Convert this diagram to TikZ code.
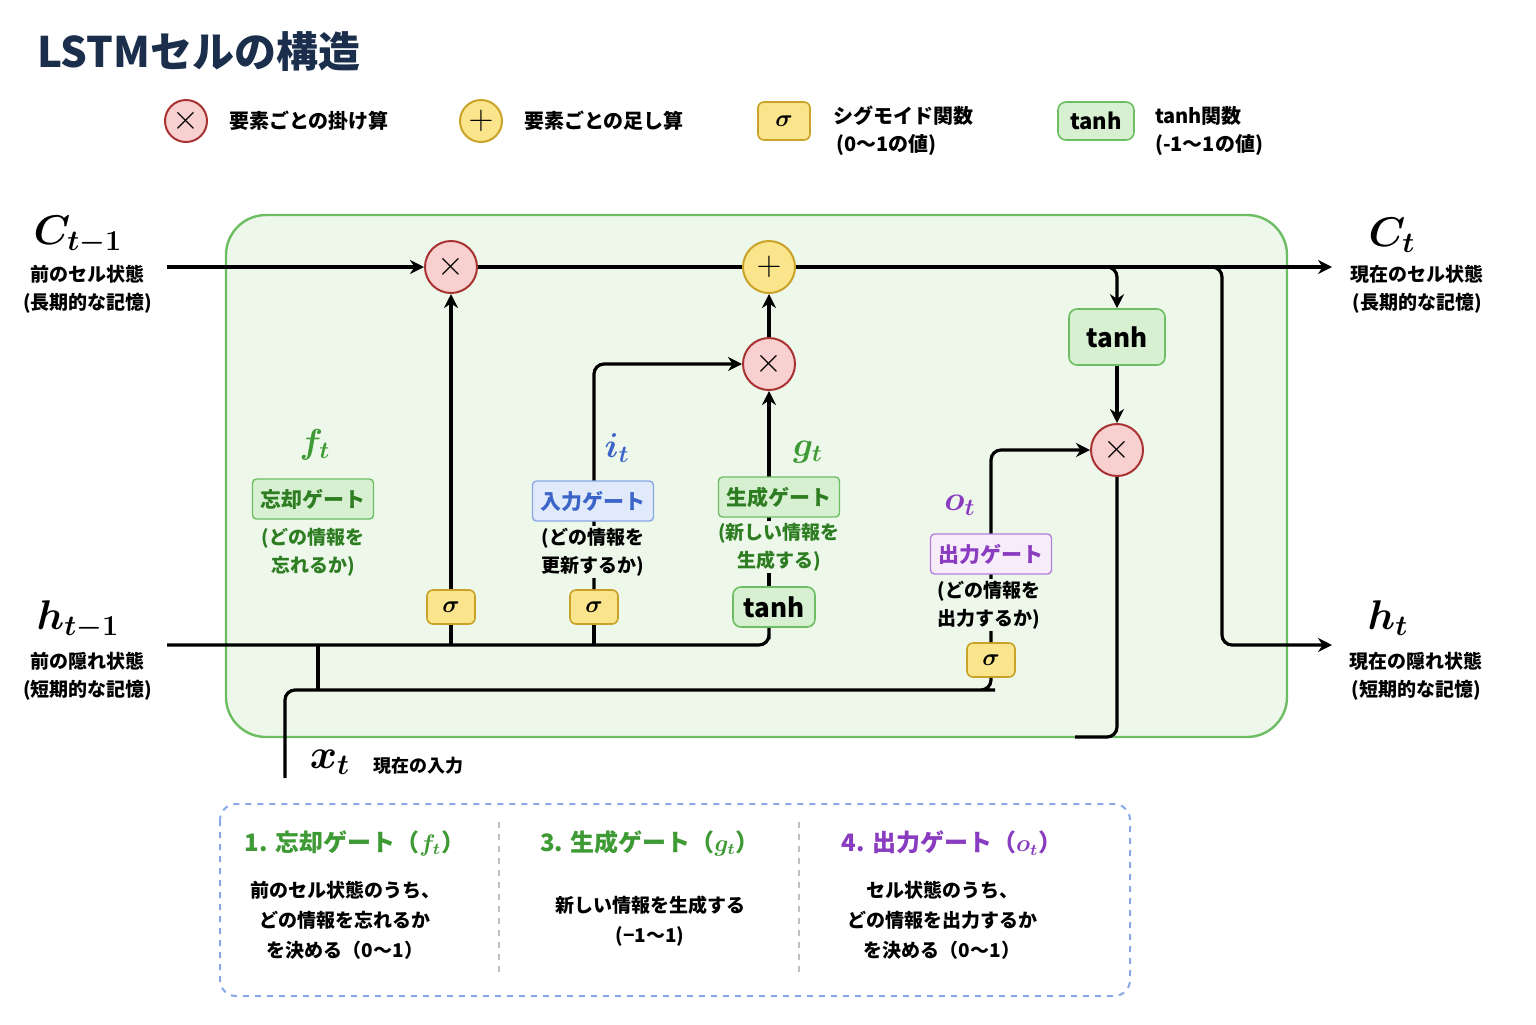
\documentclass[tikz,border=0pt]{standalone}
\usepackage{amsmath,amssymb,bm}
\usepackage{fontspec}
\setmainfont{Noto Sans CJK JP}
\usetikzlibrary{arrows.meta}
\definecolor{navy}{HTML}{1B2E4B}
\definecolor{gfill}{HTML}{D8F0D2}
\definecolor{gdraw}{HTML}{6DBE63}
\definecolor{gtext}{HTML}{3E9A34}
\definecolor{yfill}{HTML}{FBE58C}
\definecolor{ydraw}{HTML}{C9A227}
\definecolor{rfill}{HTML}{F8D0D0}
\definecolor{rdraw}{HTML}{A83232}
\definecolor{bfill}{HTML}{E0EAFB}
\definecolor{bdraw}{HTML}{8AA8E8}
\definecolor{btext}{HTML}{3A64C8}
\definecolor{pfill}{HTML}{F6ECFA}
\definecolor{pdraw}{HTML}{B47FD8}
\definecolor{ptext}{HTML}{8A3CC0}
\definecolor{dgtext}{HTML}{2E7D22}
\colorlet{cellbg}{gfill!45}
\begin{document}
\begin{tikzpicture}[x=0.5pt,y=-0.5pt,
  wire/.style={line width=1.6pt,rounded corners=5pt},
  arr/.style={wire,-{Stealth[length=7pt,width=7pt]}},
  mul/.style={circle,draw=rdraw,fill=rfill,line width=1pt,minimum size=26pt,inner sep=0pt,font=\fontsize{17}{17}\selectfont},
  addn/.style={circle,draw=ydraw,fill=yfill,line width=1pt,minimum size=26pt,inner sep=0pt,font=\fontsize{17}{17}\selectfont},
  sig/.style={rectangle,rounded corners=3pt,draw=ydraw,fill=yfill,line width=0.8pt,minimum width=24pt,minimum height=17pt,inner sep=0pt,font=\fontsize{13}{13}\selectfont},
  th/.style={rectangle,rounded corners=4pt,draw=gdraw,fill=gfill,line width=0.8pt,minimum width=41pt,minimum height=20pt,inner sep=0pt,font=\fontsize{13}{13}\selectfont\bfseries},
  gbox/.style={rectangle,rounded corners=2pt,line width=0.7pt,minimum height=20pt,inner xsep=4pt,font=\fontsize{10.5}{10.5}\selectfont\bfseries},
  txt/.style={font=\fontsize{10}{14}\selectfont\bfseries},
  sm/.style={font=\fontsize{9.5}{14}\selectfont\bfseries},
  smb/.style={sm,fill=cellbg,inner sep=1pt},
  mlab/.style={font=\fontsize{20}{20}\selectfont},
  glab/.style={font=\fontsize{17}{17}\selectfont}]
\useasboundingbox (0,0) rectangle (1536,1024);
\fill[white] (0,0) rectangle (1536,1024);
% title
\node[anchor=west,text=navy,font=\fontsize{21}{21}\selectfont\bfseries] (title) at (30,52) {LSTMセルの構造};
% legend
\node[mul,minimum size=21pt] (lm) at (186,121) {$\times$};
\node[txt,anchor=west] (lmt) at (222,121) {要素ごとの掛け算};
\node[addn,minimum size=21pt] (la) at (481,121) {$+$};
\node[txt,anchor=west] (lat) at (517,121) {要素ごとの足し算};
\node[sig,minimum width=26pt,minimum height=19pt] (ls) at (784,121) {$\bm\sigma$};
\node[txt,anchor=west,align=left] (lst) at (826,131) {シグモイド関数\\\,(0〜1の値)};
\node[th,minimum width=38pt,minimum height=19pt,font=\fontsize{11}{11}\selectfont\bfseries] (lt) at (1096,121) {tanh};
\node[txt,anchor=west,align=left] (ltt) at (1148,131) {tanh関数\\(-1〜1の値)};
% main box
\draw[draw=gdraw,fill=cellbg,line width=1.2pt,rounded corners=20pt] (226,215) rectangle (1287,737);
% nodes
\node[mul] (m1) at (451,267) {$\times$};
\node[addn] (ad) at (769,267) {$+$};
\node[mul] (m2) at (769,364) {$\times$};
\node[mul] (m3) at (1117,450) {$\times$};
\node[th,minimum width=48pt,minimum height=28pt] (tc) at (1117,337) {tanh};
\node[sig] (s1) at (451,607) {$\bm\sigma$};
\node[sig] (s2) at (594,607) {$\bm\sigma$};
\node[th] (t2) at (774,607) {tanh};
\node[sig] (s3) at (991,660) {$\bm\sigma$};
% endpoints
\coordinate (cin) at (167,267);
\coordinate (cout) at (1332,267);
\coordinate (hin) at (167,645);
\coordinate (hout) at (1332,645);
\coordinate (xin) at (285,778);
\coordinate (hend) at (1075,737);
% wires
\draw[arr] (cin) -- (m1);
\draw[wire] (m1) -- (ad);
\draw[arr] (ad) -- (cout);
\draw[arr] (1090,267) -| (tc.north);
\draw[arr] (1210,267) -| (1222,645) -- (hout);
\draw[arr] (tc) -- (m3);
\draw[wire] (m3) |- (hend);
\draw[arr] (m2) -- (ad);
\draw[arr] (s1) -- (m1);
\draw[arr] (s2.north) |- (m2);
\draw[arr] (t2.north -| m2) -- (m2);
\draw[arr] (s3.north) |- (m3);
\draw[wire] (hin) -- (769,645) -| (t2.south -| m2);
\draw[wire] (s1.south) -- (451,645);
\draw[wire] (s2.south) -- (594,645);
\draw[wire] (xin) |- (985,690) -| (s3.south);
\draw[wire] (318,645) -- (318,690);
% outer labels
\node[mlab] (cl) at (78,235) {$\bm{C_{t-1}}$};
\node[sm,align=center] (clt) at (88,289) {前のセル状態\\(長期的な記憶)};
\node[mlab] (hl) at (78,620) {$\bm{h_{t-1}}$};
\node[sm,align=center] (hlt) at (88,676) {前の隠れ状態\\(短期的な記憶)};
\node[mlab] (cr) at (1392,235) {$\bm{C_t}$};
\node[sm,align=center] (crt) at (1417,289) {現在のセル状態\\(長期的な記憶)};
\node[mlab] (hr) at (1388,618) {$\bm{h_t}$};
\node[sm,align=center] (hrt) at (1416,676) {現在の隠れ状態\\(短期的な記憶)};
\node[mlab] (xl) at (330,762) {$\bm{x_t}$};
\node[font=\fontsize{9}{9}\selectfont\bfseries] (xlt) at (418,766) {現在の入力};
% gate labels
\node[glab,text=gtext] (fl) at (315,445) {$\bm{f_t}$};
\node[gbox,draw=gdraw,fill=gfill,text=dgtext] (fb) at (313,499) {忘却ゲート};
\node[smb,text=dgtext,align=center] (ft) at (313,552) {(どの情報を\\忘れるか)};
\node[glab,text=btext,fill=cellbg,inner sep=1pt] (il) at (617,448) {$\bm{i_t}$};
\node[gbox,draw=bdraw,fill=bfill,text=btext] (ib) at (593,501) {入力ゲート};
\node[smb,align=center] (it) at (593,552) {(どの情報を\\更新するか)};
\node[glab,text=gtext] (gl) at (808,452) {$\bm{g_t}$};
\node[gbox,draw=gdraw,fill=gfill,text=dgtext] (gb) at (779,497) {生成ゲート};
\node[smb,text=dgtext,align=center] (gt) at (779,547) {(新しい情報を\\生成する)};
\node[glab,text=ptext] (ol) at (960,505) {$\bm{o_t}$};
\node[gbox,draw=pdraw,fill=pfill,text=ptext] (ob) at (991,554) {出力ゲート};
\node[smb,align=center] (ot) at (989,605) {(どの情報を\\出力するか)};
% bottom box
\draw[bdraw,dashed,line width=1pt,rounded corners=8pt] (220,804) rectangle (1130,996);
\draw[gray!50,dashed,line width=0.8pt] (499,822) -- (499,975);
\draw[gray!50,dashed,line width=0.8pt] (799,822) -- (799,975);
\node[font=\fontsize{12}{12}\selectfont\bfseries,text=gtext] (c1h) at (355,843) {1. 忘却ゲート（$\bm{f_t}$）};
\node[font=\fontsize{9.5}{15}\selectfont\bfseries,align=center] (c1t) at (345,920) {前のセル状態のうち、\\どの情報を忘れるか\\を決める（0〜1）};
\node[font=\fontsize{12}{12}\selectfont\bfseries,text=gtext] (c2h) at (650,843) {3. 生成ゲート（$\bm{g_t}$）};
\node[font=\fontsize{9.5}{15}\selectfont\bfseries,align=center] (c2t) at (650,921) {新しい情報を生成する\\(−1〜1)};
\node[font=\fontsize{12}{12}\selectfont\bfseries,text=ptext] (c3h) at (952,843) {4. 出力ゲート（$\bm{o_t}$）};
\node[font=\fontsize{9.5}{15}\selectfont\bfseries,align=center] (c3t) at (942,920) {セル状態のうち、\\どの情報を出力するか\\を決める（0〜1）};
\end{tikzpicture}
\end{document}
